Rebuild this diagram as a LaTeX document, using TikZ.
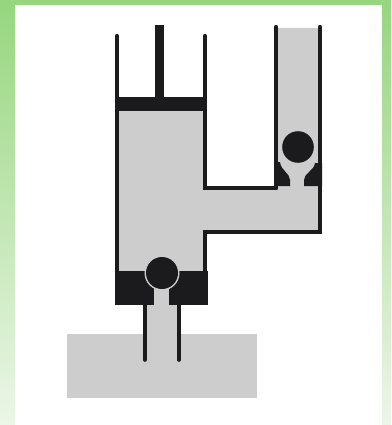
\documentclass[tikz,border=0pt]{standalone}
\definecolor{ink}{RGB}{27,27,29}
\definecolor{fluid}{RGB}{205,205,205}
\definecolor{greentop}{RGB}{150,214,126}
\definecolor{greenbot}{RGB}{236,246,232}
\tikzset{
  wall/.style={draw=ink,line width=4.2pt,line cap=round,line join=miter},
  thinwall/.style={draw=ink,line width=3.6pt,line cap=round,line join=miter},
  solid part/.style={fill=ink,draw=none},
  liquid/.style={fill=fluid,draw=none},
  halo/.style={fill=fluid,draw=none},
  ball/.style={fill=ink,draw=none}
}
\begin{document}
\begin{tikzpicture}[x=1pt,y=-1pt]
\useasboundingbox (0,0) rectangle (391,425);
% background
\shade[top color=greentop,bottom color=greenbot] (0,0) rectangle (391,425);
\fill[white] (15,5) rectangle (382,425);
% reservoir and fluid
\fill[liquid] (67,334) rectangle (257,398);
\fill[liquid] (145,300) rectangle (179,362);
\fill[liquid] (117,100) -- (205,100) -- (205,188) -- (276,188) -- (276,28) -- (320,28)
  -- (320,232) -- (205,232) -- (205,290) -- (117,290) -- cycle;
% walls
\draw[wall] (117,36) -- (117,275);
\draw[wall] (205,36) -- (205,188) -- (276,188);
\draw[wall] (276,188) -- (276,27);
\draw[wall] (320,27) -- (320,232) -- (205,232) -- (205,275);
\draw[thinwall] (145,300) -- (145,360);
\draw[thinwall] (179,300) -- (179,360);
% piston and rod
\fill[solid part] (115,97) rectangle (207,111);
\fill[solid part] (155,25) rectangle (164,98);
% lower valve
\fill[solid part] (115,271) rectangle (207.5,305);
\fill[halo] (162,273) circle (17.5);
\fill[liquid] (154,285) rectangle (169,306);
\fill[ball] (162,273) circle (16);
% upper valve seat
\fill[solid part] (274,162) -- (280,162) .. controls (281,171) and (290,173) .. (290,180)
  -- (290,186) -- (274,186) -- cycle;
\fill[solid part] (322,163) -- (315,163) .. controls (314,171) and (304,173) .. (304,180)
  -- (304,186) -- (322,186) -- cycle;
\fill[ball] (298,147) circle (15.8);
\end{tikzpicture}
\end{document}
